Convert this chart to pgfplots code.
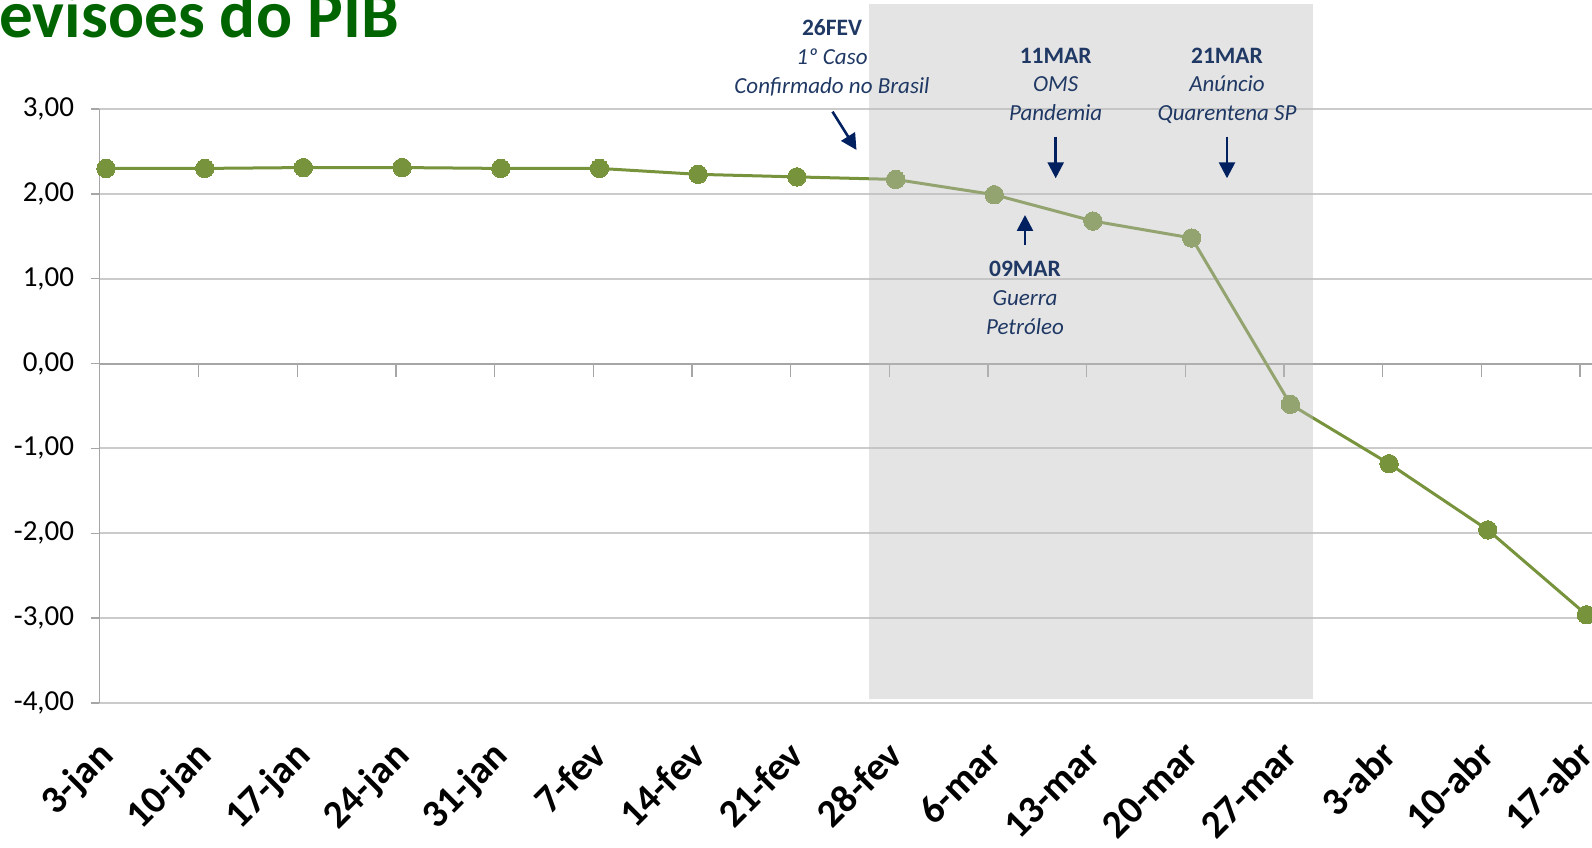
\documentclass[border=0pt]{standalone}
\usepackage{fontspec}
\setmainfont{Carlito}
\usepackage{pgfplots}
\pgfplotsset{compat=1.18}
\usetikzlibrary{arrows.meta}
\definecolor{linegreen}{HTML}{77933C}
\definecolor{titlegreen}{HTML}{006400}
\definecolor{gridc}{HTML}{CBCBCB}
\definecolor{axisc}{HTML}{A6A6A6}
\definecolor{navy}{HTML}{1F3864}
\definecolor{arrowc}{HTML}{002060}
\definecolor{shadecol}{HTML}{BDBDBD}
\newlength\Rw
\begin{document}
\settowidth{\Rw}{\fontsize{33.6}{40}\selectfont\bfseries R}%
\begin{tikzpicture}[x=1pt,y=1pt]
\useasboundingbox (0,0) rectangle (796,423.5);
\clip (0,0) rectangle (796,423.5);
\begin{axis}[
  at={(49.65pt,72pt)}, anchor=south west,
  scale only axis, width=746.35pt, height=297pt,
  xmin=-0.0679, xmax=15.056, ymin=-4, ymax=3,
  clip=false,
  axis lines*=left, axis line style={-},
  x axis line style={draw=gridc, line width=1pt},
  y axis line style={draw=axisc, line width=0.75pt},
  xtick={0,...,15},
  xticklabels={3-jan,10-jan,17-jan,24-jan,31-jan,7-fev,14-fev,21-fev,28-fev,6-mar,13-mar,20-mar,27-mar,3-abr,10-abr,17-abr},
  x tick style={draw=none},
  xticklabel style={font=\fontsize{19.6}{24}\selectfont\bfseries, inner sep=0pt, text height=12.4pt, text depth=3.9pt, xshift=1.6pt, yshift=-20.3pt, rotate=45, anchor=east},
  ytick={-4,-3,-2,-1,0,1,2,3},
  y tick style={draw=axisc, line width=0.75pt},
  tick align=outside, major tick length=4pt,
  ymajorgrids, grid style={draw=gridc, line width=1pt},
  extra y ticks={0}, extra y tick labels={},
  extra y tick style={grid style={draw=axisc, line width=1pt}},
  yticklabel style={font=\fontsize{14.5}{17}\selectfont, anchor=east, inner sep=0pt, xshift=-8.4pt},
  /pgf/number format/.cd, fixed, fixed zerofill, precision=2, use comma, assume math mode=true,
]
\addplot[linegreen, line width=1.5pt, mark=*, mark size=4.6pt,
  mark options={fill=linegreen, draw=linegreen, line width=0pt}]
  coordinates {(0,2.30)(1,2.30)(2,2.31)(3,2.31)(4,2.30)(5,2.30)(6,2.23)(7,2.20)
  (8,2.17)(9,1.99)(10,1.68)(11,1.48)(12,-0.48)(13,-1.18)(14,-1.96)(15,-2.96)};
\end{axis}
% tick marks on the zero line
\foreach \k in {0,...,14} \draw[axisc, line width=0.75pt] ({99.35+49.33*\k},241.35) -- ++(0,-6.2);
% shaded period
\fill[shadecol, fill opacity=0.41] (434.5,73.85) rectangle (656.5,421.5);
% title (left part cropped)
\node[anchor=base west, inner sep=0pt, text=titlegreen, font=\fontsize{33.6}{40}\selectfont\bfseries] at (-\Rw,404.6pt) {Revisões do PIB};
% annotations
\begin{scope}[text=navy, inner sep=0pt]
\node[anchor=base, font=\fontsize{11.75}{14}\selectfont\bfseries] at (416,405.5) {26FEV};
\node[anchor=base, font=\fontsize{11.5}{14}\selectfont\itshape] at (416,391.15) {1º Caso};
\node[anchor=base, font=\fontsize{11.5}{14}\selectfont\itshape] at (416,376.8) {Confirmado no Brasil};
\node[anchor=base, font=\fontsize{11.75}{14}\selectfont\bfseries] at (527.85,391.8) {11MAR};
\node[anchor=base, font=\fontsize{11.5}{14}\selectfont\itshape] at (527.85,377.5) {OMS};
\node[anchor=base, font=\fontsize{11.5}{14}\selectfont\itshape] at (527.85,363.25) {Pandemia};
\node[anchor=base, font=\fontsize{11.75}{14}\selectfont\bfseries] at (613.5,391.8) {21MAR};
\node[anchor=base, font=\fontsize{11.5}{14}\selectfont\itshape] at (613.5,377.5) {Anúncio};
\node[anchor=base, font=\fontsize{11.5}{14}\selectfont\itshape] at (613.5,363.25) {Quarentena SP};
\node[anchor=base, font=\fontsize{11.75}{14}\selectfont\bfseries] at (512.5,285) {09MAR};
\node[anchor=base, font=\fontsize{11.5}{14}\selectfont\itshape] at (512.5,270.6) {Guerra};
\node[anchor=base, font=\fontsize{11.5}{14}\selectfont\itshape] at (512.5,256.25) {Petróleo};
\end{scope}
\begin{scope}[arrowc, line width=1.3pt, -{Triangle[width=8pt,length=8pt]}]
\draw (416.25,367.65) -- (428.25,348.5);
\draw (527.85,355.15) -- (527.85,334.35);
\draw (613.5,355.15) -- (613.5,334.35);
\draw (512.5,301) -- (512.5,316);
\end{scope}
\end{tikzpicture}
\end{document}
